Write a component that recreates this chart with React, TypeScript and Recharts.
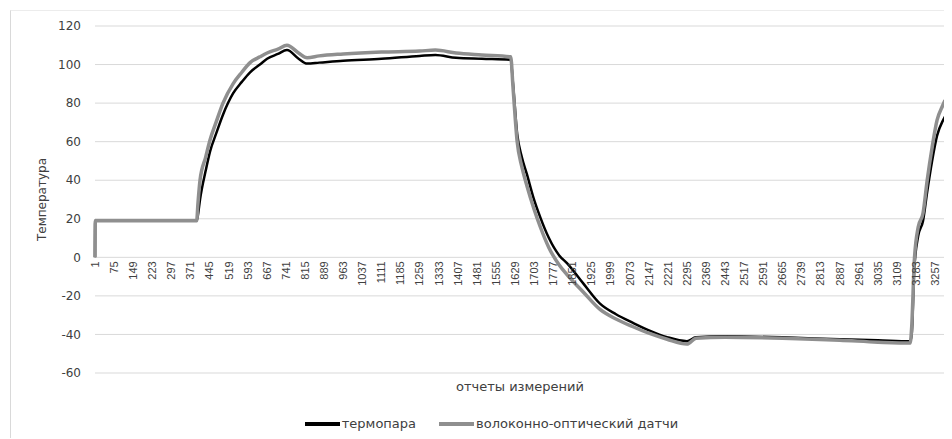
import { LineChart, Line, XAxis, YAxis, CartesianGrid, Legend } from 'recharts';

// sample number (x) and readings of the two sensors
const sampleNo = [
  1, 2, 395, 400, 408, 430, 447, 470, 497, 536,
  570, 602, 640, 668, 710, 745, 790, 823, 870, 963,
  1111, 1259, 1320, 1400, 1500, 1612, 1621, 1637, 1655, 1675,
  1700, 1726, 1760, 1800, 1830, 1893, 1958, 2020, 2086, 2150,
  2218, 2295, 2330, 2443, 2665, 2887, 3035, 3160, 3166, 3176,
  3191, 3210, 3226, 3245, 3264, 3287, 3295,
];

const thermocouple = [
  0, 19, 19, 22, 30, 45, 55, 64, 74, 85,
  91, 96, 100, 103, 105.5, 107.5, 103, 100.5, 101, 102,
  103, 104.5, 105, 103.5, 103, 102.5, 90, 64, 52, 43,
  31, 21, 10, 1, -3, -13.5, -24, -29.5, -34, -38,
  -41.4, -43.5, -41.5, -41, -41.5, -42.5, -43, -43.5, -40, -6,
  11, 19, 34, 50, 63, 71, 73,
];

const fiberOptic = [
  0, 19, 19, 28, 40, 52, 61, 70, 80, 90,
  96, 101, 104, 106, 108, 110, 106, 103.5, 104.5, 105.5,
  106.5, 107, 107.5, 106, 105, 104, 88, 60, 47, 37,
  26, 16, 5, -4, -9, -18, -27, -32, -36, -39.5,
  -42.5, -45, -42, -41.5, -42, -43, -44, -44.5, -36, -2,
  15.6, 23, 40, 57, 71, 79, 81.5,
];

const xTicks = [
  1, 75, 149, 223, 297, 371, 445, 519, 593, 667, 741, 815, 889, 963, 1037,
  1111, 1185, 1259, 1333, 1407, 1481, 1555, 1629, 1703, 1777, 1851, 1925,
  1999, 2073, 2147, 2221, 2295, 2369, 2443, 2517, 2591, 2665, 2739, 2813,
  2887, 2961, 3035, 3109, 3183, 3257,
];

const yTicks = [-60, -40, -20, 0, 20, 40, 60, 80, 100, 120];

const data = sampleNo.map((n, i) => ({
  n,
  tc: thermocouple[i],
  fo: fiberOptic[i],
}));

const W = 940;
const H = 427;
const MARGIN = { top: 15, right: 6, left: 24, bottom: 0 };
const Y_W = 60;
const X_H = 20;
const LEGEND_H = 45;
const PLOT_H = H - MARGIN.top - MARGIN.bottom - X_H - LEGEND_H;
const Y_MIN = -60;
const Y_MAX = 120;
// x axis labels sit on the zero line, as in Excel
const ZERO_Y = MARGIN.top + (PLOT_H * Y_MAX) / (Y_MAX - Y_MIN);

const TEXT = '#404040';

function XTick(props: any) {
  const { x, payload } = props;
  const y = ZERO_Y + 4;
  return (
    <text
      x={x}
      y={y}
      transform={`rotate(-90 ${x} ${y})`}
      textAnchor="end"
      dy="0.35em"
      fontSize={11}
      fontFamily="'Liberation Sans', Arial, sans-serif"
      fill={TEXT}
    >
      {payload.value}
    </text>
  );
}

function LegendContent() {
  const item = (color: string, label: string, width: number) => (
    <div style={{ display: 'flex', alignItems: 'center', marginRight: 23 }}>
      <div style={{ width: 35, height: width, background: color, marginRight: 2 }} />
      <span>{label}</span>
    </div>
  );
  return (
    <div
      style={{
        height: LEGEND_H,
        display: 'flex',
        justifyContent: 'center',
        alignItems: 'flex-end',
        paddingBottom: 7,
        paddingLeft: 26,
        boxSizing: 'border-box',
        fontFamily: "'DejaVu Sans', sans-serif",
        fontSize: 13,
        color: TEXT,
      }}
    >
      {item('#000000', 'термопара', 4)}
      {item('#8f8f8f', 'волоконно-оптический датчи', 4)}
    </div>
  );
}

export default function App() {
  return (
    <div style={{ padding: '2px 0 0 2px' }}>
      <div
        style={{
          width: W,
          height: H,
          borderLeft: '1px solid #d9d9d9',
          borderTop: '1px solid #ececec',
          fontFamily: "'DejaVu Sans', sans-serif",
        }}
      >
        <LineChart width={W} height={H} data={data} margin={MARGIN}>
          <CartesianGrid vertical={false} stroke="#d9d9d9" strokeWidth={1} />
          <XAxis
            dataKey="n"
            type="number"
            domain={[1, 3295]}
            ticks={xTicks}
            interval={0}
            height={X_H}
            axisLine={false}
            tickLine={false}
            tick={(p: any) => <XTick {...p} />}
            label={{
              value: 'отчеты измерений',
              position: 'insideBottom',
              offset: 2,
              fill: TEXT,
              fontSize: 13,
            }}
          />
          <YAxis
            domain={[Y_MIN, Y_MAX]}
            ticks={yTicks}
            width={Y_W}
            axisLine={false}
            tickLine={false}
            tickSize={0}
            tickMargin={14}
            tick={{ fill: TEXT, fontSize: 12 }}
            label={{
              value: 'Температура',
              angle: -90,
              position: 'insideLeft',
              offset: 7,
              fill: TEXT,
              fontSize: 12,
              style: { textAnchor: 'middle' },
            }}
          />
          <Legend verticalAlign="bottom" height={LEGEND_H} content={() => <LegendContent />} />
          <Line
            type="monotone"
            dataKey="tc"
            name="термопара"
            stroke="#000000"
            strokeWidth={2.5}
            dot={false}
            isAnimationActive={false}
          />
          <Line
            type="monotone"
            dataKey="fo"
            name="волоконно-оптический датчи"
            stroke="#8f8f8f"
            strokeWidth={3.5}
            dot={false}
            isAnimationActive={false}
          />
        </LineChart>
      </div>
    </div>
  );
}
